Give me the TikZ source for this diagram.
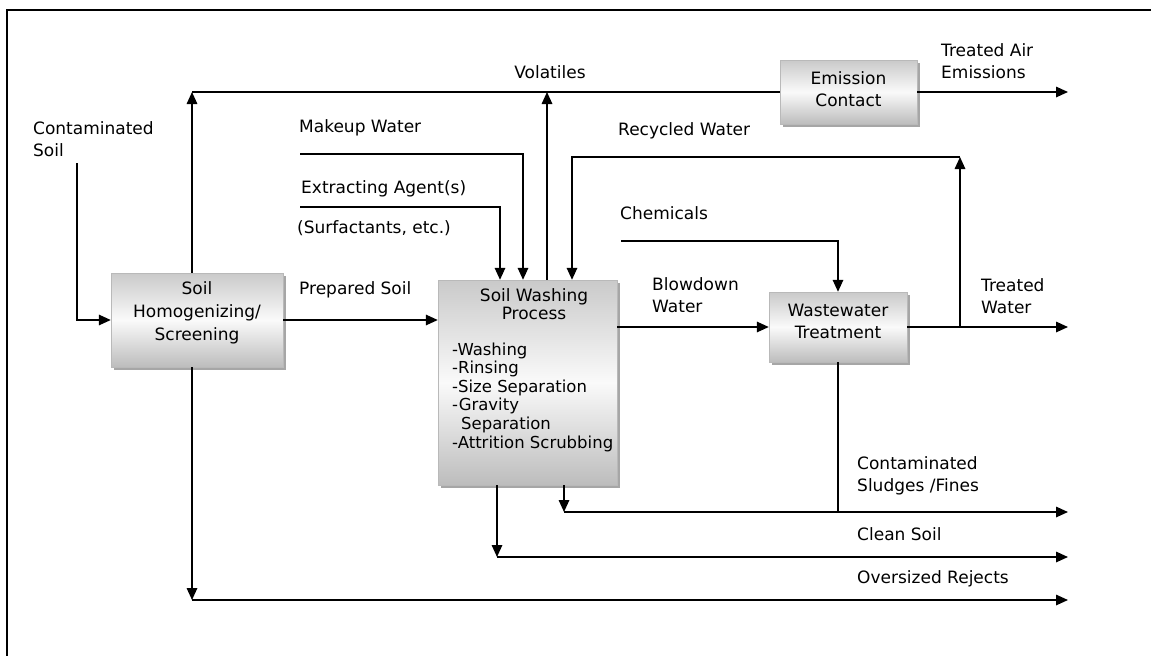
\documentclass[tikz,border=0pt]{standalone}
\usepackage{fontspec}
\setmainfont{DejaVu Sans}
\usepackage{tikz}
\usetikzlibrary{arrows.meta, positioning, shadows}

\begin{document}
\begin{tikzpicture}[
			x=1pt, y=-1pt,
			font=\fontsize{17}{22}\selectfont,
			block/.style={
				rectangle,
				draw=gray!55,
				line width=0.4pt,
				top color=gray!42,
				bottom color=gray!52,
				middle color=gray!4,
				drop shadow={shadow xshift=3pt, shadow yshift=-3pt, fill=gray!70, opacity=1}
			},
			arrow/.style={
				-{Triangle[length=12pt, width=10.5pt]},
				line width=1.6pt
			},
			flow/.style={
				line width=1.6pt
			},
			note/.style={
				anchor=west,
				align=left,
				inner sep=0pt
			},
			boxtext/.style={
				align=center,
				inner sep=0pt
			}
			]
			
			% page frame
			\useasboundingbox (0,0) rectangle (1151,656);
			\draw[line width=1.2pt] (1151,10) -- (7,10) -- (7,656);
			
			% Soil Homogenizing (left)
			\node[block, minimum width=172pt, minimum height=94pt] (hom) at (197,320) {};
			\node[boxtext, font=\fontsize{17}{23}\selectfont] (homtxt) at ([yshift=7pt]hom.center) {Soil\\Homogenizing/\\Screening};
			
			% Soil Washing Process (center)
			\node[block, minimum width=179pt, minimum height=205pt] (wash) at (527.5,382.5) {};
			\node[boxtext, font=\fontsize{17}{18.5}\selectfont] (washtitle) at (534,304) {Soil Washing\\Process};
			\node[note, font=\fontsize{16.5}{18.6}\selectfont] (washsteps) at (452,397) {-Washing\\-Rinsing\\-Size Separation\\-Gravity\\\hspace*{9pt}Separation\\-Attrition Scrubbing};
			
			% Emission Contact (top right)
			\node[block, minimum width=137pt, minimum height=64pt] (emis) at (848.5,92) {};
			\node[boxtext] (emistxt) at ([yshift=3pt]emis.center) {Emission\\Contact};
			
			% Wastewater Treatment (right)
			\node[block, minimum width=138pt, minimum height=70pt] (wwt) at (838,327) {};
			\node[boxtext] (wwttxt) at ([yshift=6pt]wwt.center) {Wastewater\\Treatment};
			
			% free ends and joints
			\coordinate (soilin) at (77,163);
			\coordinate (airjoin) at (192,92);
			\coordinate (volup) at (547,92);
			\coordinate (airout) at (1068,92);
			\coordinate (makeup) at (300,154);
			\coordinate (agent) at (300,207);
			\coordinate (rtop) at (960,157);
			\coordinate (rbase) at (960,327);
			\coordinate (chem) at (621,241);
			\coordinate (waterout) at (1068,327);
			\coordinate (sludge) at (564,512);
			\coordinate (sludgeout) at (1068,512);
			\coordinate (clean) at (497,557);
			\coordinate (cleanout) at (1068,557);
			\coordinate (reject) at (192,600);
			\coordinate (rejectout) at (1068,600);
			
			% labels
			\node[note] (soillbl) at (33,139) {Contaminated\\Soil};
			\node[note] (makeuplbl) at (299,128) {Makeup Water};
			\node[note] (agentlbl) at (301,189) {Extracting Agent(s)};
			\node[note] (surflbl) at (297,228) {(Surfactants, etc.)};
			\node[note] (preplbl) at (299,290) {Prepared Soil};
			\node[boxtext] (vollbl) at (550,72) {Volatiles};
			\node[note] (airlbl) at (941,61) {Treated Air\\Emissions};
			\node[note] (recylbl) at (618,131) {Recycled Water};
			\node[note] (chemlbl) at (620,213) {Chemicals};
			\node[note] (blowlbl) at (652,295) {Blowdown\\Water};
			\node[note] (waterlbl) at (981,296) {Treated\\Water};
			\node[note] (sludgelbl) at (857,476) {Contaminated\\Sludges /Fines};
			\node[note] (cleanlbl) at (857,534) {Clean Soil};
			\node[note] (rejectlbl) at (857,579) {Oversized Rejects};
			
			% soil in, volatiles out
			\draw[arrow] (soilin) |- (hom.west);
			\draw[arrow] ([xshift=-5pt]hom.north) -- (airjoin);
			\draw[flow] (airjoin) -- (emis.west);
			\draw[arrow] ([xshift=19.5pt]wash.north) -- (volup);
			\draw[arrow] (emis.east) -- (airout);
			
			% feeds to soil washing
			\draw[arrow] (makeup) -| ([xshift=-4.5pt]wash.north);
			\draw[arrow] (agent) -| ([xshift=-27.5pt]wash.north);
			\draw[arrow] (hom.east) -- (hom.east -| wash.west);
			
			% water loop
			\draw[arrow] (wash.east |- wwt.west) -- (wwt.west);
			\draw[arrow] (chem) -| (wwt.north);
			\draw[arrow] (wwt.east) -- (waterout);
			\draw[arrow] (rbase) -- (rtop);
			\draw[arrow] (rtop) -| ([xshift=44.5pt]wash.north);
			
			% solid outputs
			\draw[arrow] ([xshift=36.5pt]wash.south) -- (sludge);
			\draw[arrow] (sludge) -- (sludgeout);
			\draw[flow] (wwt.south) -- (wwt.south |- sludge);
			\draw[arrow] ([xshift=-30.5pt]wash.south) -- (clean);
			\draw[arrow] (clean) -- (cleanout);
			\draw[arrow] ([xshift=-5pt]hom.south) -- (reject);
			\draw[arrow] (reject) -- (rejectout);
			
		\end{tikzpicture}
\end{document}
